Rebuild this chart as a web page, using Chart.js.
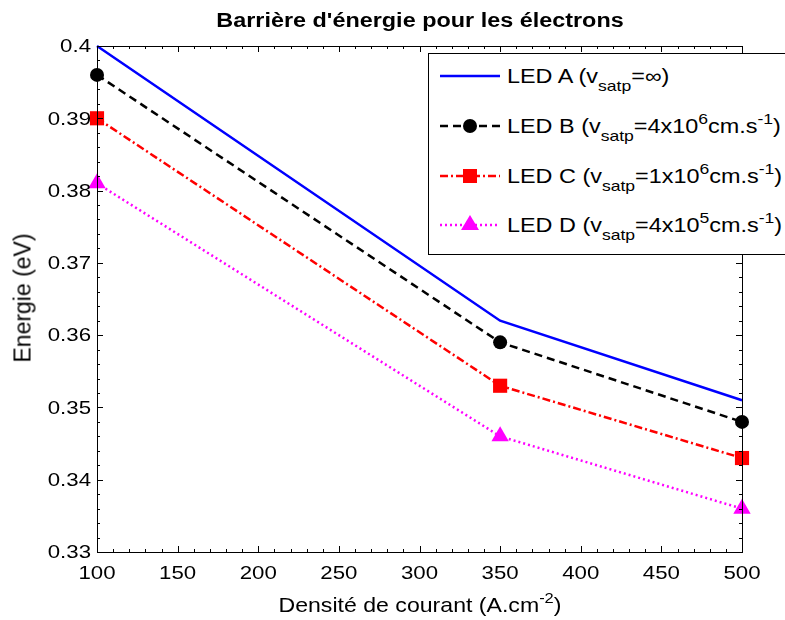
<!DOCTYPE html>
<html>
<head>
<meta charset="utf-8">
<script src="https://cdn.jsdelivr.net/npm/chart.js@4.4.0/dist/chart.umd.min.js"></script>
<style>
body { margin: 0; width: 785px; height: 620px; overflow: hidden; background: #fff;
       font-family: "Liberation Sans", Arial, sans-serif; position: relative; }
#chart { position: absolute; left: 0; top: 0; }
.title { position: absolute; top: 10px; left: 420px; font-weight: bold; font-size: 20px; line-height: 20px;
         white-space: nowrap; transform: translateX(-50%) scaleX(1.17); }
.xlabel { position: absolute; top: 594px; left: 420px; font-size: 21px; line-height: 21px; white-space: nowrap;
          transform: translateX(-50%) scaleX(1.1); }
.ylabel { position: absolute; left: 23px; top: 298px; font-size: 23px; white-space: nowrap;
          transform: translate(-50%, -50%) rotate(-90deg); }
.legend { position: absolute; left: 428px; top: 53px; width: 370px; height: 200px;
          border: 1px solid #000; background: #fff; }
.row { position: absolute; left: 11px; height: 26px; display: flex; align-items: center;
       font-size: 20px; white-space: nowrap; }
.row svg { margin-right: 7px; }
.row span { display: inline-block; transform: scaleX(1.17); transform-origin: left center; }
sub, sup { font-size: 15px; line-height: 0; }
sub { vertical-align: -8px; }
sup { vertical-align: 9px; }
</style>
</head>
<body>
<canvas id="chart" width="785" height="620"></canvas>
<div class="title">Barrière d'énergie pour les électrons</div>
<div class="xlabel">Densité de courant (A.cm<sup>-2</sup>)</div>
<div class="ylabel">Energie (eV)</div>
<div class="legend" id="legend"></div>
<script>
const current = [100, 350, 500];
const ledA = [0.400, 0.362, 0.351];
const ledB = [0.396, 0.359, 0.348];
const ledC = [0.390, 0.353, 0.343];
const ledD = [0.381, 0.346, 0.336];

const xTicks = [100, 150, 200, 250, 300, 350, 400, 450, 500];
const yTicks = [0.33, 0.34, 0.35, 0.36, 0.37, 0.38, 0.39, 0.4];

const series = [
    { label: 'LED A', html: 'LED A (v<sub>satp</sub>=&infin;)', data: ledA, color: '#0000ff',
      dash: [], point: false, radius: 0 },
    { label: 'LED B', html: 'LED B (v<sub>satp</sub>=4x10<sup>6</sup>cm.s<sup>-1</sup>)', data: ledB, color: '#000000',
      dash: [8, 5], point: 'circle', radius: 7 },
    { label: 'LED C', html: 'LED C (v<sub>satp</sub>=1x10<sup>6</sup>cm.s<sup>-1</sup>)', data: ledC, color: '#ff0000',
      dash: [8, 3, 2, 3], point: 'rect', radius: 10 },
    { label: 'LED D', html: 'LED D (v<sub>satp</sub>=4x10<sup>5</sup>cm.s<sup>-1</sup>)', data: ledD, color: '#ff00ff',
      dash: [2, 3], point: 'triangle', radius: 10 }
];

// matlab text comes out a bit wider than Arial, so stretch it
function stretchedText(ctx, text, x, y, align) {
    ctx.save();
    ctx.translate(x, y);
    ctx.scale(1.17, 1);
    ctx.textAlign = align;
    ctx.fillText(text, 0, 0);
    ctx.restore();
}

// matlab style ticks pointing inwards, on all four sides
const boxTicks = {
    id: 'boxTicks',
    afterDraw(chart) {
        const { ctx, chartArea: a, scales: { x, y } } = chart;
        ctx.save();
        ctx.strokeStyle = '#000';
        ctx.lineWidth = 1;
        ctx.beginPath();
        for (let v = xTicks[0]; v <= xTicks[xTicks.length - 1]; v += 10) {
            const px = Math.round(x.getPixelForValue(v)) + 0.5;
            const len = xTicks.includes(v) ? 6 : 3;
            ctx.moveTo(px, a.bottom); ctx.lineTo(px, a.bottom - len);
            ctx.moveTo(px, a.top); ctx.lineTo(px, a.top + len);
        }
        for (let i = 0; i <= 35; i++) {
            const v = yTicks[0] + i * 0.002;
            const py = Math.round(y.getPixelForValue(v)) + 0.5;
            const len = i % 5 === 0 ? 6 : 3;
            ctx.moveTo(a.left, py); ctx.lineTo(a.left + len, py);
            ctx.moveTo(a.right, py); ctx.lineTo(a.right - len, py);
        }
        ctx.stroke();
        ctx.strokeRect(Math.round(a.left) + 0.5, Math.round(a.top) + 0.5,
                       Math.round(a.right - a.left), Math.round(a.bottom - a.top));

        ctx.fillStyle = '#000';
        ctx.font = '19px "Liberation Sans"';
        ctx.textBaseline = 'middle';
        x.ticks.forEach(t => stretchedText(ctx, String(t.value), x.getPixelForValue(t.value), a.bottom + 22, 'center'));
        y.ticks.forEach(t => stretchedText(ctx, String(+t.value.toFixed(3)), a.left - 6, y.getPixelForValue(t.value) + 1, 'right'));
        ctx.restore();
    }
};

new Chart(document.getElementById('chart'), {
    type: 'line',
    data: {
        datasets: series.map(s => ({
            label: s.label,
            data: current.map((c, i) => ({ x: c, y: s.data[i] })),
            borderColor: s.color,
            backgroundColor: s.color,
            borderWidth: 2.5,
            borderDash: s.dash,
            pointStyle: s.point,
            pointRadius: s.radius,
            pointBorderWidth: 0,
            tension: 0,
            clip: false
        }))
    },
    options: {
        responsive: false,
        animation: false,
        layout: { padding: { left: 0, top: 46, right: 43, bottom: 0 } },
        plugins: { legend: { display: false }, tooltip: { enabled: false } },
        scales: {
            x: {
                type: 'linear',
                min: 100, max: 500,
                afterFit: s => { s.height = 68; },
                afterBuildTicks: s => { s.ticks = xTicks.map(v => ({ value: v })); },
                grid: { display: false, drawTicks: false },
                border: { display: true, color: '#000', width: 1 },
                ticks: { display: false }
            },
            y: {
                min: 0.33, max: 0.4,
                afterFit: s => { s.width = 97; },
                afterBuildTicks: s => { s.ticks = yTicks.map(v => ({ value: v })); },
                grid: { display: false, drawTicks: false },
                border: { display: true, color: '#000', width: 1 },
                ticks: { display: false }
            }
        }
    },
    plugins: [boxTicks]
});

// legend, with sub and superscripts
const rowCenters = [22, 72, 122, 171];
const legend = document.getElementById('legend');
series.forEach((s, i) => {
    const row = document.createElement('div');
    row.className = 'row';
    row.style.top = (rowCenters[i] - 13) + 'px';
    let marker = '';
    if (s.point === 'circle') marker = `<circle cx="30" cy="13" r="7" fill="${s.color}"/>`;
    if (s.point === 'rect') marker = `<rect x="23" y="6" width="14" height="14" fill="${s.color}"/>`;
    if (s.point === 'triangle') marker = `<polygon points="30,3 39,18 21,18" fill="${s.color}"/>`;
    row.innerHTML = `<svg width="60" height="26"><line x1="0" y1="13" x2="60" y2="13" stroke="${s.color}"
        stroke-width="2.5" stroke-dasharray="${s.dash.join(' ')}"/>${marker}</svg><span>${s.html}</span>`;
    legend.appendChild(row);
});
</script>
</body>
</html>
